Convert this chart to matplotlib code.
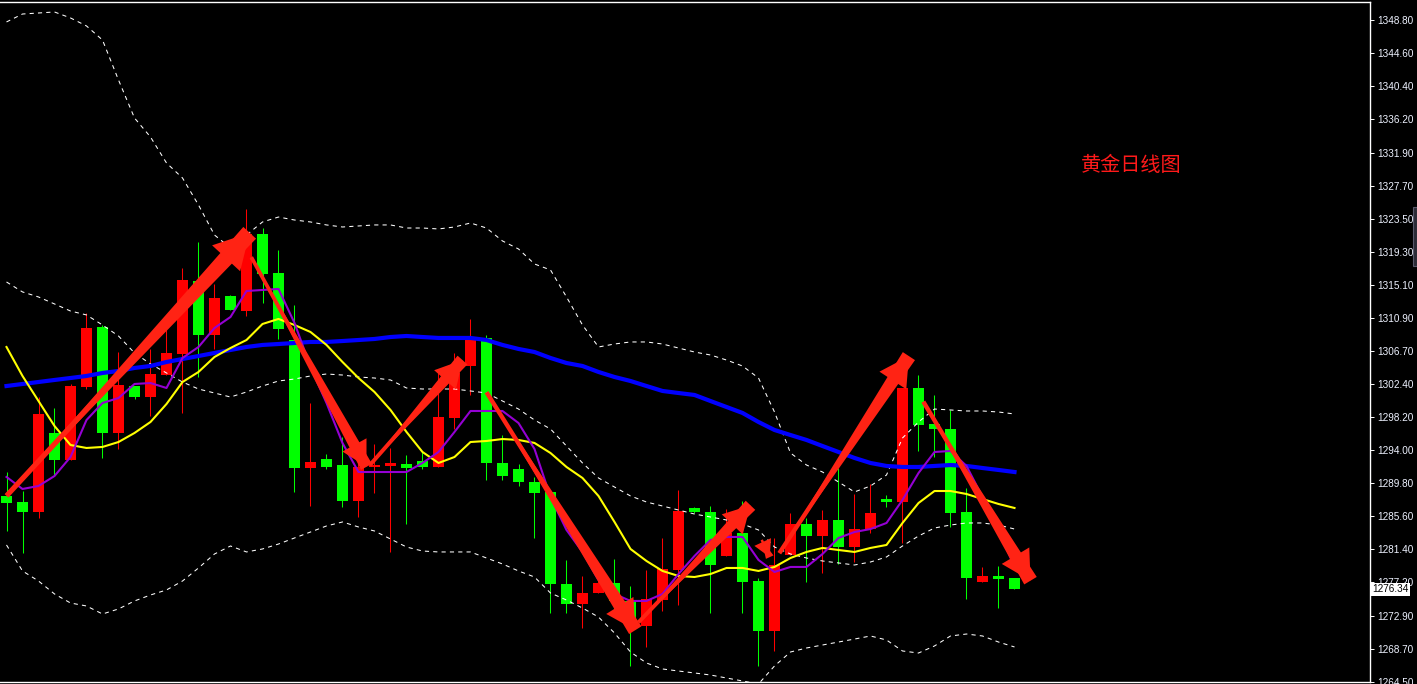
import numpy as np
import matplotlib.pyplot as plt
from matplotlib.patches import Rectangle

# Gold daily chart (MT4 style): candles, moving averages, bands and trend arrows

opens = [1288.19, 1287.42, 1286.15, 1296.21, 1292.77, 1302.07, 1309.71, 1296.21, 1302.19, 1300.79,
         1303.59, 1306.27, 1315.56, 1308.69, 1313.65, 1311.74, 1321.55, 1316.58, 1308.05, 1291.75,
         1292.90, 1292.13, 1287.55, 1291.88, 1292.01, 1292.26, 1292.64, 1291.88, 1298.12, 1304.74,
         1308.31, 1292.39, 1291.62, 1289.97, 1288.70, 1276.98, 1274.43, 1275.83, 1277.11, 1274.82,
         1271.63, 1274.94, 1278.76, 1286.66, 1286.15, 1280.55, 1283.47, 1277.36, 1271.00, 1280.67,
         1284.62, 1283.09, 1285.13, 1281.69, 1283.98, 1287.80, 1287.42, 1301.94, 1297.36, 1296.72,
         1286.15, 1277.24, 1278.00, 1277.74]
highs = [1291.24, 1288.82, 1300.79, 1299.39, 1302.45, 1311.49, 1309.96, 1306.52, 1302.19, 1306.91,
         1311.11, 1317.22, 1320.53, 1315.18, 1313.78, 1324.73, 1322.31, 1319.51, 1312.51, 1300.03,
         1293.53, 1295.70, 1293.66, 1294.81, 1294.30, 1293.41, 1293.79, 1303.98, 1306.40, 1310.73,
         1308.69, 1295.95, 1292.26, 1290.61, 1288.95, 1280.04, 1278.00, 1277.49, 1280.16, 1276.73,
         1278.76, 1282.84, 1288.95, 1286.79, 1286.91, 1286.53, 1287.55, 1277.74, 1282.84, 1286.02,
         1285.39, 1286.40, 1291.75, 1288.44, 1289.71, 1288.31, 1301.94, 1303.59, 1301.05, 1299.14,
         1289.21, 1279.15, 1279.27, 1277.74]
lows = [1283.73, 1280.93, 1285.39, 1290.73, 1292.77, 1301.81, 1293.03, 1294.17, 1300.54, 1298.37,
        1303.59, 1298.76, 1303.34, 1306.91, 1311.87, 1311.11, 1312.76, 1308.18, 1288.70, 1286.91,
        1291.62, 1286.79, 1285.51, 1288.57, 1281.06, 1284.62, 1291.62, 1291.88, 1296.72, 1301.05,
        1290.22, 1290.22, 1289.46, 1282.84, 1273.29, 1273.29, 1271.38, 1275.83, 1273.67, 1266.54,
        1268.96, 1273.54, 1274.31, 1286.02, 1273.29, 1280.55, 1273.29, 1266.54, 1268.45, 1280.67,
        1277.24, 1278.38, 1279.53, 1279.78, 1283.47, 1286.79, 1282.20, 1293.92, 1293.15, 1284.24,
        1275.07, 1277.24, 1273.92, 1276.34]
closes = [1287.29, 1286.15, 1298.63, 1292.77, 1302.19, 1309.58, 1296.21, 1302.32, 1300.79, 1303.72,
          1306.40, 1315.69, 1308.69, 1313.40, 1311.87, 1321.55, 1316.46, 1309.45, 1291.75, 1292.52,
          1291.88, 1287.55, 1291.88, 1292.13, 1292.39, 1291.75, 1291.88, 1298.25, 1303.85, 1308.05,
          1292.39, 1290.73, 1289.97, 1288.57, 1276.98, 1274.43, 1275.83, 1277.11, 1274.82, 1271.63,
          1275.07, 1278.89, 1286.28, 1286.15, 1279.40, 1283.47, 1277.24, 1271.00, 1279.40, 1284.62,
          1283.09, 1285.13, 1281.69, 1283.98, 1286.02, 1287.42, 1301.94, 1297.23, 1296.72, 1286.02,
          1277.74, 1278.00, 1277.62, 1276.34]

# slow moving average (blue)
ma_slow = [1302.19, 1302.45, 1302.70, 1302.96, 1303.21, 1303.47, 1303.85, 1304.10, 1304.49, 1304.74,
           1305.25, 1305.63, 1306.01, 1306.40, 1306.78, 1307.16, 1307.42, 1307.54, 1307.67, 1307.80,
           1307.80, 1307.92, 1308.05, 1308.18, 1308.43, 1308.56, 1308.43, 1308.31, 1308.31, 1308.31,
           1308.05, 1307.42, 1306.91, 1306.52, 1305.76, 1305.12, 1304.74, 1303.98, 1303.34, 1302.83,
           1302.19, 1301.56, 1301.30, 1301.05, 1300.28, 1299.52, 1298.76, 1297.61, 1296.59, 1295.95,
           1295.32, 1294.55, 1293.79, 1293.03, 1292.39, 1292.01, 1291.88, 1291.88, 1292.01, 1292.13,
           1292.01, 1291.75, 1291.50, 1291.24]
# medium moving average (yellow)
ma_mid = [1307.16, 1303.47, 1300.28, 1297.10, 1294.68, 1294.30, 1294.43, 1295.06, 1296.21, 1297.61,
          1299.90, 1302.70, 1303.98, 1305.89, 1307.03, 1308.05, 1310.09, 1310.73, 1309.96, 1309.07,
          1307.42, 1305.25, 1303.21, 1301.43, 1299.14, 1296.34, 1293.79, 1292.39, 1293.15, 1295.06,
          1295.19, 1295.44, 1295.32, 1294.94, 1293.66, 1291.88, 1290.48, 1288.19, 1284.88, 1281.44,
          1279.91, 1278.64, 1278.00, 1277.87, 1278.25, 1279.02, 1279.02, 1278.64, 1279.15, 1280.29,
          1281.06, 1281.57, 1281.31, 1281.06, 1281.57, 1281.95, 1284.75, 1287.29, 1288.82, 1288.82,
          1288.44, 1287.80, 1287.17, 1286.66]
# fast moving average (purple)
ma_fast = [1290.61, 1289.08, 1289.46, 1290.73, 1293.15, 1297.86, 1300.03, 1300.66, 1302.45, 1302.57,
           1301.94, 1305.76, 1307.16, 1309.58, 1310.98, 1314.29, 1314.42, 1314.55, 1310.22, 1304.61,
           1300.03, 1294.93, 1291.24, 1291.24, 1291.24, 1291.24, 1292.39, 1293.79, 1296.34, 1299.01,
           1299.01, 1299.01, 1297.48, 1294.17, 1288.06, 1283.86, 1281.06, 1277.49, 1275.71, 1274.82,
           1274.82, 1275.71, 1278.25, 1280.55, 1282.58, 1282.97, 1282.97, 1280.04, 1278.51, 1279.15,
           1279.15, 1280.80, 1282.84, 1283.60, 1283.98, 1284.75, 1287.68, 1291.11, 1293.79, 1293.92,
           1292.01, 1288.06, 1283.86, 1279.15]

# dotted bands
band_upper = [1348.55, 1349.56, 1349.69, 1349.82, 1349.06, 1348.04, 1346.25, 1341.16, 1336.32, 1333.90,
              1330.59, 1328.68, 1325.24, 1321.42, 1319.77, 1321.42, 1323.08, 1323.71, 1323.33, 1323.08,
              1322.70, 1322.44, 1322.57, 1322.70, 1322.70, 1322.31, 1322.31, 1322.19, 1322.44, 1322.95,
              1322.31, 1320.66, 1319.64, 1317.73, 1316.97, 1313.53, 1309.96, 1307.16, 1307.54, 1307.80,
              1307.80, 1307.54, 1307.03, 1306.52, 1306.14, 1305.50, 1304.74, 1303.21, 1298.88, 1293.66,
              1292.13, 1291.24, 1289.97, 1288.70, 1289.46, 1290.86, 1295.57, 1297.61, 1299.26, 1299.14,
              1299.01, 1299.01, 1298.88, 1298.63]
band_middle = [1315.44, 1314.17, 1313.53, 1312.64, 1311.74, 1311.24, 1309.96, 1308.56, 1306.40, 1305.00,
               1303.85, 1302.70, 1301.81, 1301.30, 1300.79, 1301.43, 1302.19, 1302.83, 1303.08, 1303.47,
               1303.72, 1303.59, 1303.34, 1303.21, 1302.96, 1301.94, 1301.81, 1301.81, 1301.81, 1301.56,
               1301.30, 1300.28, 1299.26, 1297.86, 1296.72, 1294.55, 1292.39, 1290.48, 1289.33, 1288.19,
               1287.42, 1286.91, 1286.40, 1285.89, 1285.51, 1285.13, 1284.62, 1283.86, 1281.69, 1280.80,
               1280.29, 1279.91, 1279.66, 1279.40, 1279.78, 1280.42, 1281.82, 1283.09, 1284.11, 1284.49,
               1284.75, 1284.75, 1284.49, 1283.98]
band_lower = [1281.95, 1278.64, 1277.36, 1275.71, 1274.56, 1274.18, 1273.16, 1273.80, 1274.82, 1275.58,
              1276.22, 1277.36, 1279.02, 1280.80, 1281.82, 1281.06, 1281.44, 1282.07, 1282.84, 1283.60,
              1284.37, 1284.88, 1284.24, 1283.73, 1282.71, 1281.69, 1281.18, 1281.06, 1281.06, 1281.06,
              1280.29, 1279.53, 1278.64, 1277.87, 1275.83, 1274.94, 1273.92, 1272.77, 1270.74, 1268.32,
              1266.92, 1266.16, 1265.90, 1265.65, 1265.39, 1265.01, 1264.63, 1264.25, 1266.54, 1268.32,
              1268.83, 1269.21, 1269.59, 1269.97, 1270.36, 1269.85, 1268.45, 1268.19, 1269.09, 1270.36,
              1270.61, 1270.36, 1269.59, 1268.96]

# price scale labels on the right
price_ticks = [1348.80, 1344.60, 1340.40, 1336.20, 1331.90, 1327.70, 1323.50, 1319.30, 1315.10, 1310.90,
               1306.70, 1302.40, 1298.20, 1294.00, 1289.80, 1285.60, 1281.40, 1277.20, 1272.90, 1268.70,
               1264.50]
last_price = 1276.34

# trend arrows drawn on the chart: (bar, price) start -> end
arrow_start = [(0.0, 1288.2), (15.3, 1318.6), (22.7, 1292.1), (30.0, 1301.4),
               (39.5, 1272.1), (47.2, 1282.6), (48.3, 1280.9), (57.3, 1300.2)]
arrow_end = [(15.2, 1321.7), (22.5, 1291.9), (28.5, 1305.5), (39.3, 1271.1),
             (46.5, 1287.0), (47.7, 1280.4), (56.4, 1306.0), (64.0, 1277.4)]
arrow_size = [1.25, 0.9, 0.95, 1.05, 0.95, 0.6, 1.05, 1.05]

title = '黄金日线图'

# ---------------------------------------------------------------
W, H = 1417, 684
fig = plt.figure(figsize=(W / 100, H / 100), dpi=100, facecolor='black')
ax = fig.add_axes([0, 2 / H, 1370 / W, 680 / H], facecolor='black')

x = np.arange(len(opens))
o = np.array(opens)
c = np.array(closes)
up = c > o
colors = np.where(up, '#ff0000', '#00ff00')

# candles: wick then body
ax.vlines(x, lows, highs, colors=colors, linewidth=0.75, zorder=2)
body = np.maximum(np.abs(c - o), 0.12)
ax.bar(x, body, bottom=np.minimum(o, c), width=0.69, color=colors, linewidth=0, zorder=3)

# bands
for band in (band_upper, band_middle, band_lower):
    ax.plot(x, band, color='white', linewidth=0.75, dashes=(4, 4), zorder=4)

# moving averages
ax.plot(x, ma_slow, color='#0000ff', linewidth=3.0, zorder=5)
ax.plot(x, ma_mid, color='#ffff00', linewidth=1.5, zorder=5)
ax.plot(x, ma_fast, color='#9400d3', linewidth=1.5, zorder=5)

# trend arrows: tapered shaft (wedge, wide at the head) plus an arrow head
arrow_red = '#ff2314'
for s, e, k in zip(arrow_start, arrow_end, arrow_size):
    ax.annotate('', xy=s, xytext=e,
                arrowprops=dict(arrowstyle='wedge,tail_width=1.0,shrink_factor=0.5',
                                fc=arrow_red, ec='none', mutation_scale=10 * k,
                                shrinkA=0, shrinkB=0),
                zorder=6)
    ax.annotate('', xy=e, xytext=s,
                arrowprops=dict(arrowstyle='simple,head_length=2.0,head_width=2.2,tail_width=0.3',
                                fc=arrow_red, ec='none', mutation_scale=10 * k,
                                shrinkA=0, shrinkB=0),
                zorder=6)

ax.text(1081 / 1370, 0.760, title, transform=ax.transAxes, color='#ff1a1a',
        fontsize=14.5, family=['Noto Sans CJK SC', 'DejaVu Sans'], ha='left', va='center')

# axes frame and price scale
ax.set_xlim(-6.5 / 16, (1370 - 6.5) / 16)
ax.set_ylim(1264.5, 1351.09)
ax.set_xticks([])
ax.yaxis.tick_right()
ax.set_yticks(price_ticks)
ax.set_yticklabels(['%.2f' % t for t in price_ticks])
ax.tick_params(axis='y', colors='white', length=3, width=0.7, pad=2,
               labelsize=7.2, labelcolor='#eef2ff')
for lab in ax.get_yticklabels():
    lab.set_family('Liberation Sans')
for side in ('top', 'right', 'bottom'):
    ax.spines[side].set_color('white')
    ax.spines[side].set_linewidth(1.0)
ax.spines['left'].set_visible(False)

# current price marker
ax.annotate('%.2f' % last_price, xy=(1.0, last_price), xycoords=('axes fraction', 'data'),
            xytext=(2, 0), textcoords='offset pixels', ha='left', va='center',
            fontsize=7.2, family='Liberation Sans', color='black', annotation_clip=False,
            bbox=dict(boxstyle='square,pad=0.15', fc='white', ec='none'), zorder=10)

# little scrollbar widget at the right edge
fig.patches.append(Rectangle((1413 / W, 1 - 266 / H), 4 / W, 59 / H, transform=fig.transFigure,
                             facecolor='#2b2b36', edgecolor='#58586a', linewidth=0.8))

fig.savefig('out.png', dpi=100, facecolor='black')
